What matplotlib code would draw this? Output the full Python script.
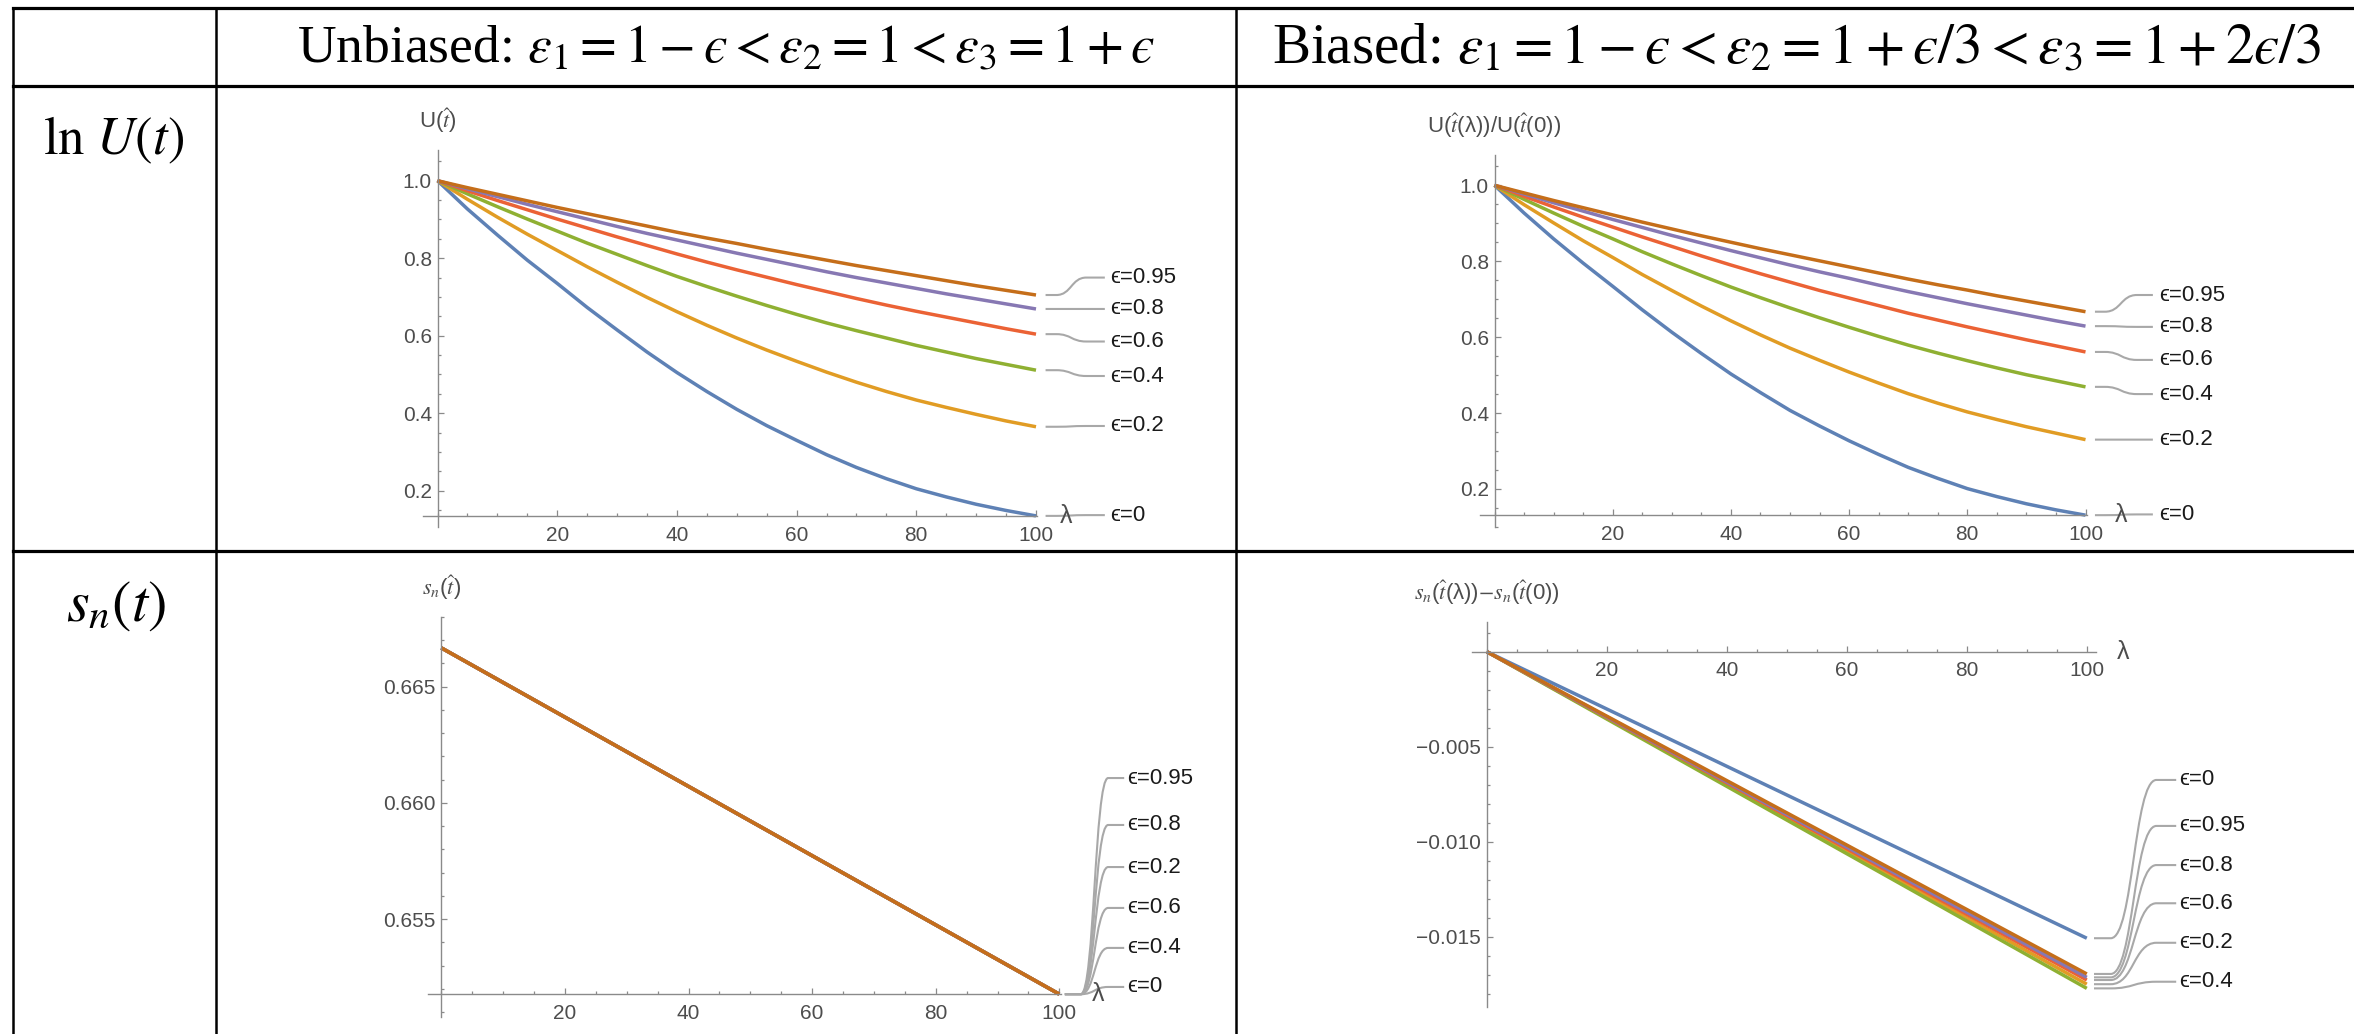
import matplotlib
matplotlib.use("Agg")
import matplotlib.pyplot as plt
from matplotlib.lines import Line2D
from matplotlib.path import Path
from matplotlib.patches import PathPatch
from matplotlib.ticker import MultipleLocator

plt.rcParams['font.family'] = ['Liberation Sans', 'DejaVu Sans']
plt.rcParams['mathtext.fontset'] = 'stix'

W, H = 2354, 1034

# ---- data ----
eps_labels = ["ϵ=0", "ϵ=0.2", "ϵ=0.4", "ϵ=0.6", "ϵ=0.8", "ϵ=0.95"]
colors = ["#5E81B5", "#E19C24", "#8FB032", "#EB6235", "#8778B3", "#C56E1A"]

lam = [0, 5, 10, 15, 20, 25, 30, 35, 40, 45, 50, 55, 60, 65, 70, 75, 80, 85, 90, 95, 100]

u_unbiased = [
    [1.0, .927, .860, .795, .735, .673, .615, .558, .505, .456, .410,
     .368, .330, .293, .260, .231, .205, .184, .165, .149, .135],
    [1.0, .952, .906, .862, .820, .778, .738, .699, .662, .627, .594,
     .563, .534, .506, .480, .456, .434, .415, .397, .380, .365],
    [1.0, .966, .933, .901, .870, .839, .810, .781, .753, .727, .702,
     .678, .655, .633, .613, .594, .575, .558, .541, .526, .511],
    [1.0, .974, .949, .925, .901, .878, .855, .833, .811, .790, .770,
     .751, .732, .714, .696, .679, .663, .648, .633, .618, .604],
    [1.0, .979, .959, .939, .920, .901, .882, .864, .847, .830, .813,
     .797, .781, .765, .750, .736, .722, .708, .695, .682, .669],
    [1.0, .982, .965, .948, .931, .915, .899, .883, .867, .852, .838,
     .823, .809, .795, .781, .768, .755, .742, .729, .717, .705],
]
u_biased = [
    [1.0, .927, .859, .795, .734, .672, .613, .557, .503, .454, .407,
     .366, .327, .291, .257, .228, .201, .180, .161, .145, .131],
    [1.0, .949, .901, .854, .810, .765, .723, .682, .643, .606, .571,
     .539, .508, .479, .451, .426, .403, .383, .364, .347, .330],
    [1.0, .963, .927, .892, .859, .825, .793, .762, .732, .704, .677,
     .651, .626, .602, .579, .558, .538, .519, .501, .485, .469],
    [1.0, .971, .943, .916, .890, .864, .839, .814, .790, .767, .745,
     .723, .703, .683, .663, .645, .627, .610, .593, .577, .561],
    [1.0, .977, .954, .932, .910, .889, .868, .848, .828, .809, .790,
     .772, .755, .737, .720, .704, .688, .673, .658, .643, .629],
    [1.0, .980, .960, .941, .922, .903, .885, .867, .850, .833, .817,
     .801, .785, .769, .753, .738, .724, .709, .695, .681, .667],
]

lam_ends = [0, 100]
sn_unbiased = [[0.66667, 0.65177] for _ in range(6)]
sn_biased = [
    [0.0, -0.01508],
    [0.0, -0.01750],
    [0.0, -0.01772],
    [0.0, -0.01728],
    [0.0, -0.01714],
    [0.0, -0.01696],
]

x_ticks = [20, 40, 60, 80, 100]
x_ticklabels = ["20", "40", "60", "80", "100"]
u_yticks = [0.2, 0.4, 0.6, 0.8, 1.0]
u_yticklabels = ["0.2", "0.4", "0.6", "0.8", "1.0"]
snu_yticks = [0.655, 0.660, 0.665]
snu_yticklabels = ["0.655", "0.660", "0.665"]
snb_yticks = [-0.015, -0.010, -0.005]
snb_yticklabels = ["\u22120.015", "\u22120.010", "\u22120.005"]

header_left = "Unbiased: $\u03b5_1 = 1 - \u03f5 < \u03b5_2 = 1 < \u03b5_3 = 1 + \u03f5$"
header_right = "Biased: $\u03b5_1 = 1 - \u03f5 < \u03b5_2 = 1 + \u03f5/3 < \u03b5_3 = 1 + 2\u03f5/3$"
row_labels = [r"$\ln\, U(t)$", r"$s_n(t)$"]

fig = plt.figure(figsize=(W / 100, H / 100), dpi=100)


def fig_line(x0, y0, x1, y1, lw):
    fig.add_artist(Line2D([x0 / W, x1 / W], [1 - y0 / H, 1 - y1 / H],
                          transform=fig.transFigure, color='black', lw=lw))


# table rules
for y in (8, 86, 551):
    fig_line(13, y, W, y, 2.3)
for x in (13, 216, 1236):
    fig_line(x, 8, x, H, 1.8)

fig.text(726 / W, 1 - 49 / H, header_left, ha='center', va='center',
         fontsize=38.5, family=['Liberation Serif'])
fig.text(1797 / W, 1 - 49 / H, header_right, ha='center', va='center',
         fontsize=41, family=['Liberation Serif'])
fig.text(114 / W, 1 - 140 / H, row_labels[0], ha='center', va='center', fontsize=38)
fig.text(116 / W, 1 - 606 / H, row_labels[1], ha='center', va='center', fontsize=42)


def connector(ax, y0, y1, xs, color='#a8a8a8'):
    x0, xa, xb, xe = xs
    xm = (xa + xb) / 2
    verts = [(x0, y0), (xa, y0), (xm, y0), (xm, y1), (xb, y1), (xe, y1)]
    codes = [Path.MOVETO, Path.LINETO, Path.CURVE4, Path.CURVE4, Path.CURVE4, Path.LINETO]
    ax.add_patch(PathPatch(Path(verts, codes), fill=False, edgecolor=color,
                           lw=1.5, clip_on=False))


def panel(x0px, xpx, yref, yrefpx, ypx, xlim, ylim, yorigin, xs, series,
          yticks, yticklabels, yminor, ylabel, label_y, cx, lam_x):
    left = x0px + xlim[0] * xpx
    right = x0px + xlim[1] * xpx
    top = yrefpx - (ylim[1] - yref) * ypx
    bottom = yrefpx + (yref - ylim[0]) * ypx
    ax = fig.add_axes([left / W, 1 - bottom / H, (right - left) / W, (bottom - top) / H])
    ax.set_xlim(*xlim)
    ax.set_ylim(*ylim)
    ax.patch.set_alpha(0)
    for i, ys in enumerate(series):
        ax.plot(xs, ys, color=colors[i], lw=2.5, solid_capstyle='butt',
                solid_joinstyle='round')
    for s in ('top', 'right'):
        ax.spines[s].set_visible(False)
    ax.spines['left'].set_position(('data', 0))
    ax.spines['bottom'].set_position(('data', yorigin))
    for s in ('left', 'bottom'):
        ax.spines[s].set_color('#8a8a8a')
        ax.spines[s].set_linewidth(1.0)
    ax.set_xticks(x_ticks)
    ax.set_xticklabels(x_ticklabels)
    ax.xaxis.set_minor_locator(MultipleLocator(5))
    ax.set_yticks(yticks)
    ax.set_yticklabels(yticklabels)
    ax.yaxis.set_minor_locator(MultipleLocator(yminor))
    ax.tick_params(which='both', direction='in', color='#8a8a8a', width=0.9,
                   labelcolor='#4d4d4d', labelsize=15)
    ax.tick_params(which='major', length=4.5)
    ax.tick_params(which='minor', length=2.5)
    ax.tick_params(axis='x', pad=7)
    ax.tick_params(axis='y', pad=4)
    ax.annotate(ylabel, xy=(0, ylim[1]), xytext=(0, 21), textcoords='offset points',
                ha='center', va='center', fontsize=16, color='#4d4d4d',
                annotation_clip=False)
    ax.text(lam_x, yorigin, "λ", ha='center', va='center', fontsize=18,
            color='#4d4d4d', clip_on=False)
    for i, ys in enumerate(series):
        connector(ax, ys[-1], label_y[i], cx[:4])
        ax.text(cx[4], label_y[i], eps_labels[i], ha='left', va='center',
                fontsize=16, color='#1a1a1a', clip_on=False)
    return ax


# top-left: unbiased U
panel(437.5, 5.985, 1.0, 180.7, 387.5, (-2.5, 100.2), (0.107, 1.079), 0.135,
      lam, u_unbiased, u_yticks, u_yticklabels, 0.05, r"U($\hat{t}$)",
      [0.137, 0.367, 0.496, 0.585, 0.669, 0.750],
      [101.6, 103.4, 108.4, 111.5, 112.4], 105)

# top-right: biased U ratio
panel(1494.5, 5.91, 1.0, 185.3, 379.6, (-2.5, 100.2), (0.099, 1.08), 0.131,
      lam, u_biased, u_yticks, u_yticklabels, 0.05,
      r"U($\hat{t}$(λ))/U($\hat{t}$(0))",
      [0.133, 0.330, 0.450, 0.540, 0.627, 0.711],
      [101.6, 103.3, 108.7, 111.4, 112.4], 106)

# bottom-left: unbiased s_n
panel(441.3, 6.18, 0.665, 686.7, 23240, (-2.2, 100.2), (0.65079, 0.66801), 0.65177,
      lam_ends, sn_unbiased, snu_yticks, snu_yticklabels, 0.001,
      r"$s_n$($\hat{t}$)",
      [0.65208, 0.65724, 0.65376, 0.65548, 0.65905, 0.66107],
      [100.9, 103.5, 107.9, 110.5, 111.0], 106.3)

# bottom-right: biased s_n difference
panel(1486.8, 6.0, 0.0, 651.7, 19000, (-2.5, 101.5), (-0.01868, 0.00158), 0.0,
      lam_ends, sn_biased, snb_yticks, snb_yticklabels, 0.001,
      r"$s_n$($\hat{t}$(λ))$-$$s_n$($\hat{t}$(0))",
      [-0.00675, -0.01532, -0.01737, -0.01324, -0.01123, -0.00917],
      [101.2, 104.0, 111.6, 114.9, 115.4], 106)

fig.savefig("out.png", dpi=100)
